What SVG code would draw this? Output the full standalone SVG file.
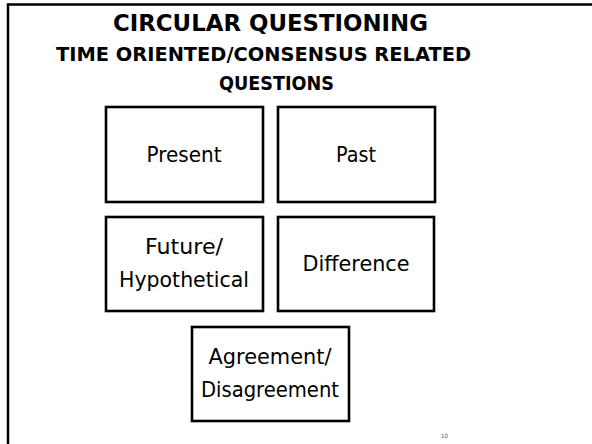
<svg xmlns="http://www.w3.org/2000/svg" width="592" height="444" viewBox="0 0 592 444">
<style>
.frame{fill:none;stroke:#000;stroke-width:2.5}
.box{fill:#fff;stroke:#000;stroke-width:2.6}
.t{font-family:"DejaVu Sans","Liberation Sans",sans-serif;font-size:20.5px;fill:#000;text-anchor:middle}
.h{font-family:"DejaVu Sans","Liberation Sans",sans-serif;font-weight:bold;fill:#000}
.pg{font-family:"DejaVu Sans Condensed","Liberation Sans",sans-serif;font-size:6px;fill:#555}
</style>
<rect width="592" height="444" fill="#fff"/>
<path class="frame" d="M8,444 V4.5 H592"/>
<text class="h" x="113" y="31" font-size="23" textLength="315" lengthAdjust="spacingAndGlyphs">CIRCULAR QUESTIONING</text>
<text class="h" x="56" y="61" font-size="19.5" textLength="415" lengthAdjust="spacingAndGlyphs">TIME ORIENTED/CONSENSUS RELATED</text>
<text class="h" x="219" y="90" font-size="19.5" textLength="115" lengthAdjust="spacingAndGlyphs">QUESTIONS</text>
<g id="present"><rect class="box" x="106" y="107" width="157" height="95"/><text class="t" x="184" y="162" textLength="75" lengthAdjust="spacingAndGlyphs">Present</text></g>
<g id="past"><rect class="box" x="278" y="107" width="157" height="95"/><text class="t" x="356" y="162" textLength="40" lengthAdjust="spacingAndGlyphs">Past</text></g>
<g id="future"><rect class="box" x="106" y="217" width="157" height="94"/><text class="t" x="184" y="254" textLength="78" lengthAdjust="spacingAndGlyphs">Future/</text><text class="t" x="184" y="287" textLength="130" lengthAdjust="spacingAndGlyphs">Hypothetical</text></g>
<g id="difference"><rect class="box" x="278" y="217" width="156" height="94"/><text class="t" x="356" y="271" textLength="107" lengthAdjust="spacingAndGlyphs">Difference</text></g>
<g id="agreement"><rect class="box" x="192" y="327" width="157" height="94"/><text class="t" x="270" y="364" textLength="123" lengthAdjust="spacingAndGlyphs">Agreement/</text><text class="t" x="270" y="397" textLength="138" lengthAdjust="spacingAndGlyphs">Disagreement</text></g>
<g id="connectors"/>
<text class="pg" x="441" y="437.5">10</text>
</svg>
